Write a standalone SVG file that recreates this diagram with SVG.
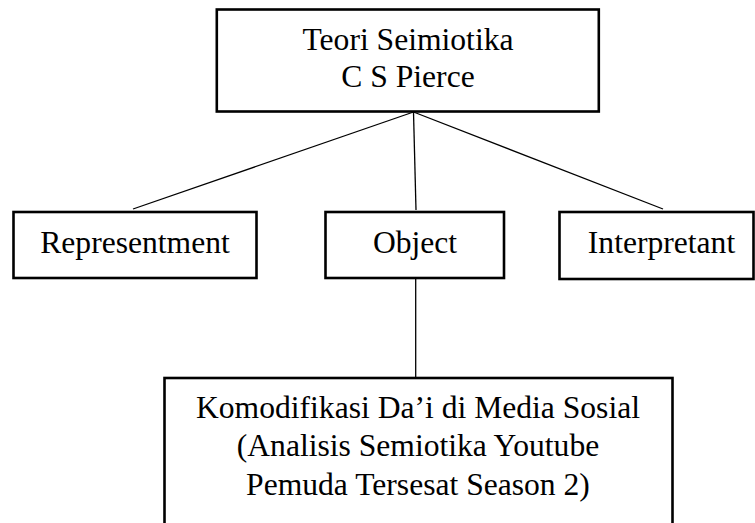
<svg xmlns="http://www.w3.org/2000/svg" width="755" height="523" viewBox="0 0 755 523">
<style>
.box{fill:#fff;stroke:#000;stroke-width:2.6}
.lbl{font-family:"Liberation Serif","Times New Roman",serif;font-size:31.6px;fill:#000;text-anchor:middle}
.conn line{stroke:#000;stroke-width:1.3}
</style>
<rect width="755" height="523" fill="#fff"/>
<g class="conn" id="connectors">
<line x1="413.5" y1="112" x2="133" y2="209"/>
<line x1="413.5" y1="112" x2="416" y2="210"/>
<line x1="413.5" y1="112" x2="663" y2="209"/>
<line x1="415.7" y1="278" x2="415.7" y2="378"/>
</g>
<g id="teori">
<rect class="box" x="216.8" y="9.5" width="382" height="102"/>
<text class="lbl" x="408" y="50">Teori Seimiotika</text>
<text class="lbl" x="408" y="87">C S Pierce</text>
</g>
<g id="representment">
<rect class="box" x="13.5" y="212" width="243" height="66"/>
<text class="lbl" x="135" y="253">Representment</text>
</g>
<g id="object">
<rect class="box" x="325.5" y="212" width="178.5" height="66"/>
<text class="lbl" x="415" y="253">Object</text>
</g>
<g id="interpretant">
<rect class="box" x="559.5" y="212" width="194" height="67"/>
<text class="lbl" x="661.5" y="253">Interpretant</text>
</g>
<g id="komodifikasi">
<rect class="box" x="164.5" y="378" width="508" height="160"/>
<text class="lbl" x="418" y="418">Komodifikasi Da’i di Media Sosial</text>
<text class="lbl" x="418" y="456">(Analisis Semiotika Youtube</text>
<text class="lbl" x="418" y="495">Pemuda Tersesat Season 2)</text>
</g>
</svg>
